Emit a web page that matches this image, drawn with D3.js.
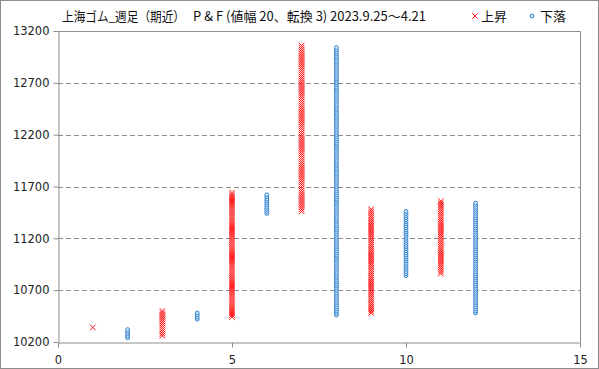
<!DOCTYPE html>
<html>
<head>
<meta charset="utf-8">
<script src="https://cdn.jsdelivr.net/npm/d3@7"></script>
<style>
  body { margin: 0; background: #fff; }
  svg { display: block; font-family: "Noto Sans CJK JP", "Noto Sans", sans-serif; }
</style>
</head>
<body>
<div id="chart"></div>
<script>
// P&F columns (box size 20, reversal 3)
const boxSize = 20;
const colIndex = [1, 2, 3, 4, 5, 6, 7, 8, 9, 10, 11, 12];
const colType  = ['X', 'O', 'X', 'O', 'X', 'O', 'X', 'O', 'X', 'O', 'X', 'O'];
const colHigh  = [10340, 10320, 10500, 10480, 11640, 11620, 13060, 13040, 11480, 11460, 11560, 11540];
const colLow   = [10340, 10240, 10260, 10420, 10440, 11440, 11460, 10460, 10480, 10840, 10860, 10480];

const xTicks = [0, 5, 10, 15];
const yTicks = [10200, 10700, 11200, 11700, 12200, 12700, 13200];

const W = 599, H = 369;
const margin = {top: 31, right: 19, bottom: 27, left: 58};

const svg = d3.select("#chart").append("svg")
    .attr("width", W)
    .attr("height", H);

svg.append("rect")
    .attr("x", 0.5).attr("y", 0.5)
    .attr("width", W - 1).attr("height", H - 1)
    .attr("fill", "#fff")
    .attr("stroke", "#8c8c8c");

const x = d3.scaleLinear().domain([0, 15]).range([margin.left, W - margin.right]);
const y = d3.scaleLinear().domain([10200, 13200]).range([H - margin.bottom, margin.top]);

// grid
svg.append("g")
    .selectAll("line")
    .data(yTicks.slice(1, -1))
    .enter().append("line")
    .attr("x1", x(0)).attr("x2", x(15))
    .attr("y1", d => Math.round(y(d)) + 0.5)
    .attr("y2", d => Math.round(y(d)) + 0.5)
    .attr("stroke", "#8c8c8c")
    .attr("stroke-dasharray", "5,3");

// plot border (top/right)
svg.append("path")
    .attr("d", `M${x(0)},${Math.round(y(13200)) + 0.5}H${Math.round(x(15)) + 0.5}V${y(10200)}`)
    .attr("fill", "none")
    .attr("stroke", "#8c8c8c");

// axes
const yAxis = svg.append("g")
    .attr("transform", `translate(${Math.round(x(0)) + 0.5},0)`)
    .call(d3.axisLeft(y).tickValues(yTicks).tickFormat(d3.format("d"))
        .tickSize(5).tickPadding(4).tickSizeOuter(0));
const xAxis = svg.append("g")
    .attr("transform", `translate(0,${Math.round(y(10200)) + 0.5})`)
    .call(d3.axisBottom(x).tickValues(xTicks).tickFormat(d3.format("d"))
        .tickSize(5).tickPadding(6).tickSizeOuter(0));

[yAxis, xAxis].forEach(a => {
    a.selectAll("path, line").attr("stroke", "#8c8c8c");
    a.selectAll("text")
        .attr("fill", "#222")
        .style("font-family", "'DejaVu Sans', sans-serif")
        .style("font-size", "11.5px");
});
xAxis.selectAll("text").attr("dy", "0.9em");

// boxes
const boxes = [];
colIndex.forEach((c, i) => {
    d3.range(colLow[i], colHigh[i] + boxSize / 2, boxSize).forEach(v => {
        boxes.push({col: c, type: colType[i], value: v});
    });
});

const s = 2.8;
svg.append("g")
    .selectAll("path")
    .data(boxes.filter(d => d.type === 'X'))
    .enter().append("path")
    .attr("transform", d => `translate(${x(d.col)},${y(d.value)})`)
    .attr("d", `M${-s},${-s}L${s},${s}M${-s},${s}L${s},${-s}`)
    .attr("stroke", "#ff1a1a")
    .attr("stroke-width", 1)
    .attr("fill", "none");

svg.append("g")
    .selectAll("circle")
    .data(boxes.filter(d => d.type === 'O'))
    .enter().append("circle")
    .attr("cx", d => x(d.col))
    .attr("cy", d => y(d.value))
    .attr("r", 1.9)
    .attr("fill", "#d6e8f7")
    .attr("stroke", "#2f82cf")
    .attr("stroke-width", 1);

// title
const title = svg.append("g")
    .style("font-size", "13px")
    .attr("fill", "#111");
title.append("text").attr("x", 62).attr("y", 21)
    .attr("textLength", 123).attr("lengthAdjust", "spacingAndGlyphs")
    .text("上海ゴム_週足（期近）");
title.append("text").attr("x", 193).attr("y", 21).text("P & F (値幅 20、転換 3)");
title.append("text").attr("x", 330).attr("y", 21).text("2023.9.25〜4.21");

// legend
const lg = svg.append("g");
lg.append("path")
    .attr("transform", "translate(475,16)")
    .attr("d", `M${-s},${-s}L${s},${s}M${-s},${s}L${s},${-s}`)
    .attr("stroke", "#ff1a1a").attr("fill", "none");
lg.append("text").attr("x", 481).attr("y", 21)
    .style("font-size", "13px").attr("fill", "#111").text("上昇");
lg.append("circle").attr("cx", 532).attr("cy", 16).attr("r", 1.9)
    .attr("fill", "#d6e8f7").attr("stroke", "#2f82cf");
lg.append("text").attr("x", 540).attr("y", 21)
    .style("font-size", "13px").attr("fill", "#111").text("下落");
</script>
</body>
</html>
